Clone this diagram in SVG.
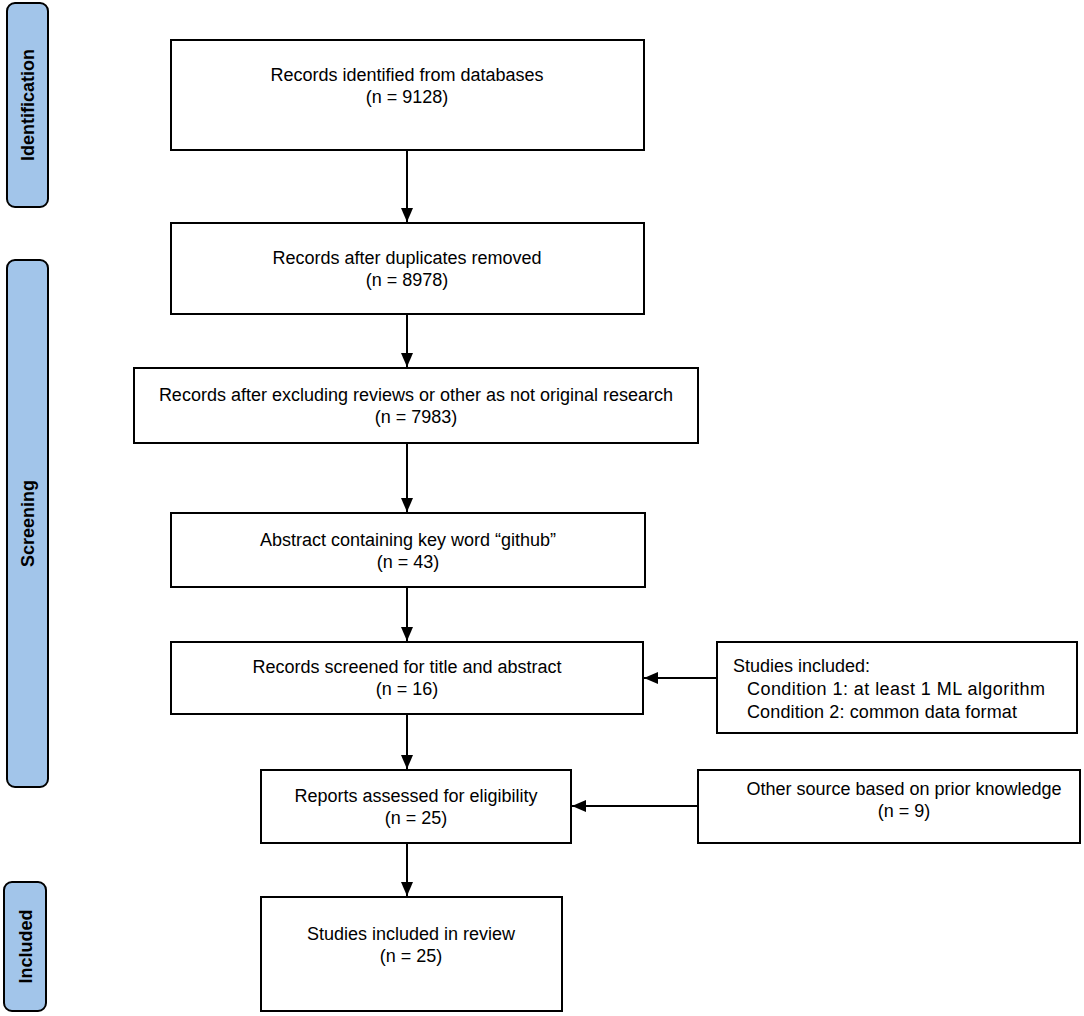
<svg xmlns="http://www.w3.org/2000/svg" width="1084" height="1016" viewBox="0 0 1084 1016">
<style>
.box{fill:#fff;stroke:#000;stroke-width:2}
.side{fill:#a2c5ea;stroke:#000;stroke-width:2}
.t{font-family:"Liberation Sans",Arial,sans-serif;font-size:18px;fill:#000;text-anchor:middle}
.tl{font-family:"Liberation Sans",Arial,sans-serif;font-size:18px;fill:#000}
.lab{font-family:"Liberation Sans",Arial,sans-serif;font-size:18px;font-weight:bold;fill:#000;text-anchor:middle}
.c{stroke:#000;stroke-width:2;fill:none;marker-end:url(#ah)}
</style>
<defs>
<marker id="ah" markerUnits="userSpaceOnUse" markerWidth="14" markerHeight="12" viewBox="0 0 14 12" refX="14" refY="6" orient="auto">
<path d="M0,0 L14,6 L0,12 Z" fill="#000"/>
</marker>
</defs>
<rect width="1084" height="1016" fill="#fff"/>
<g id="phase-identification">
<rect class="side" x="7" y="3" width="41" height="204" rx="8"/>
<text class="lab" transform="translate(33.5,105) rotate(-90)">Identification</text>
</g>
<g id="phase-screening">
<rect class="side" x="7" y="260" width="41" height="527" rx="8"/>
<text class="lab" transform="translate(33.5,523.5) rotate(-90)">Screening</text>
</g>
<g id="phase-included">
<rect class="side" x="4" y="882" width="42" height="129" rx="8"/>
<text class="lab" transform="translate(32,946.5) rotate(-90)">Included</text>
</g>
<g id="n1">
<rect class="box" x="171" y="40" width="473" height="110"/>
<text class="t" x="407" y="81">Records identified from databases</text>
<text class="t" x="407" y="103">(n = 9128)</text>
</g>
<g id="n2">
<rect class="box" x="171" y="223" width="473" height="91"/>
<text class="t" x="407" y="264">Records after duplicates removed</text>
<text class="t" x="407" y="286">(n = 8978)</text>
</g>
<g id="n3">
<rect class="box" x="134" y="368" width="564" height="75"/>
<text class="t" x="416" y="401">Records after excluding reviews or other as not original research</text>
<text class="t" x="416" y="423">(n = 7983)</text>
</g>
<g id="n4">
<rect class="box" x="171" y="513" width="474" height="74"/>
<text class="t" x="408" y="546">Abstract containing key word “github”</text>
<text class="t" x="408" y="568">(n = 43)</text>
</g>
<g id="n5">
<rect class="box" x="171" y="642" width="472" height="72"/>
<text class="t" x="407" y="673">Records screened for title and abstract</text>
<text class="t" x="407" y="695">(n = 16)</text>
</g>
<g id="n6">
<rect class="box" x="717" y="642" width="360" height="91"/>
<text class="tl" x="733" y="672">Studies included:</text>
<text class="tl" x="747" y="695" textLength="298">Condition 1: at least 1 ML algorithm</text>
<text class="tl" x="747" y="718" textLength="270">Condition 2: common data format</text>
</g>
<g id="n7">
<rect class="box" x="261" y="770" width="310" height="73"/>
<text class="t" x="416" y="802">Reports assessed for eligibility</text>
<text class="t" x="416" y="824">(n = 25)</text>
</g>
<g id="n8">
<rect class="box" x="698" y="770" width="382" height="73"/>
<text class="t" x="904" y="795">Other source based on prior knowledge</text>
<text class="t" x="904" y="817">(n = 9)</text>
</g>
<g id="n9">
<rect class="box" x="261" y="897" width="301" height="114"/>
<text class="t" x="411" y="940">Studies included in review</text>
<text class="t" x="411" y="962">(n = 25)</text>
</g>
<g id="connectors">
<line class="c" x1="407" y1="150" x2="407" y2="222"/>
<line class="c" x1="407" y1="314" x2="407" y2="367"/>
<line class="c" x1="407" y1="443" x2="407" y2="512"/>
<line class="c" x1="407" y1="587" x2="407" y2="641"/>
<line class="c" x1="407" y1="714" x2="407" y2="769"/>
<line class="c" x1="407" y1="843" x2="407" y2="896"/>
<line class="c" x1="717" y1="678" x2="644" y2="678"/>
<line class="c" x1="698" y1="806" x2="572" y2="806"/>
</g>
</svg>
